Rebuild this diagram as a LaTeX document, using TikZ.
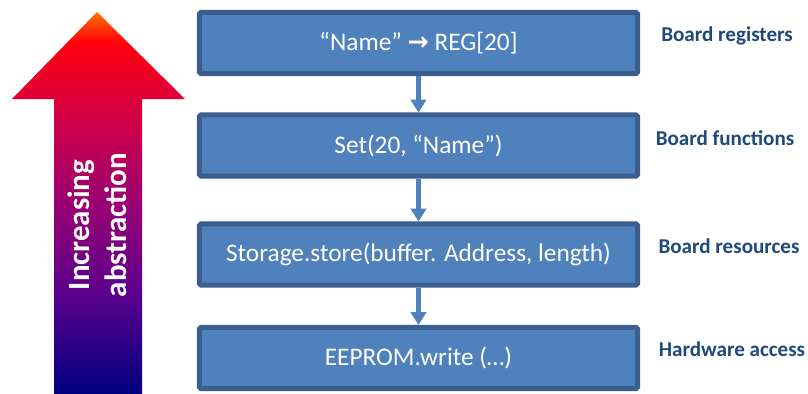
\documentclass[tikz,border=0pt]{standalone}
\usepackage{fontspec}
\setmainfont{Carlito}
\newfontfamily\dejavu{DejaVu Sans}
\usepackage{xcolor}
\usetikzlibrary{arrows.meta, positioning}

\definecolor{boxfill}{HTML}{4F81BD}
\definecolor{boxedge}{HTML}{3A5F8E}
\definecolor{labelblue}{HTML}{1F497D}

% gradient of the big arrow (bottom to top)
\pgfdeclareverticalshading{abstractgrad}{100bp}{%
  rgb(0bp)=(0,0,0.5);
  rgb(25bp)=(0,0,0.5);
  rgb(38bp)=(0.35,0,0.55);
  rgb(50bp)=(0.6,0,0.45);
  rgb(62bp)=(0.84,0,0.26);
  rgb(71bp)=(1,0,0.05);
  rgb(75bp)=(1,0.45,0);
  rgb(100bp)=(1,0.45,0)}

\begin{document}
\begin{tikzpicture}[
    x=0.025cm, y=-0.025cm,
    layer/.style={rectangle, draw=boxedge, fill=boxfill, line width=0.125cm, rounded corners=1pt,
                  minimum width=10.95cm, minimum height=1.525cm, text=white, font=\fontsize{18}{20}\selectfont},
    tag/.style={text=labelblue, font=\fontsize{15}{17}\selectfont\bfseries},
    flow/.style={draw=boxfill, line width=0.14cm, -{Triangle[width=0.38cm, length=0.32cm]}}
]
\useasboundingbox (0,0) rectangle (808,394);

% Increasing abstraction arrow
\shade[shading=abstractgrad] (54,394) -- (54,99) -- (12,99) -- (97,12) -- (185,99) -- (142,99) -- (142,394) -- cycle;
\node[rotate=90, text=white, align=center, font=\fontsize{22}{26}\selectfont\bfseries] (abs) at (97,225) {Increasing\\abstraction};

% Layers
\node[layer] (reg) at (418.5,43) {“Name” {\dejavu\bfseries\fontsize{18}{20}\selectfont →} REG[20]};
\node[layer] (fun) at (418.5,145.5) {Set(20, “Name”)};
\node[layer] (res) at (418.5,254.5) {Storage.store(buffer. Address, length)};
\node[layer] (hw) at (418.5,358) {EEPROM.write (…)};

% Layer names
\node[tag] (lreg) at (727,36) {Board registers};
\node[tag] (lfun) at (725,138) {Board functions};
\node[tag] (lres) at (729,246) {Board resources};
\node[tag] (lhw) at (732,349) {Hardware access};

% Arrows
\draw[flow] (reg) -- (fun);
\draw[flow] (fun) -- (res);
\draw[flow] (res) -- (hw);

\end{tikzpicture}
\end{document}
